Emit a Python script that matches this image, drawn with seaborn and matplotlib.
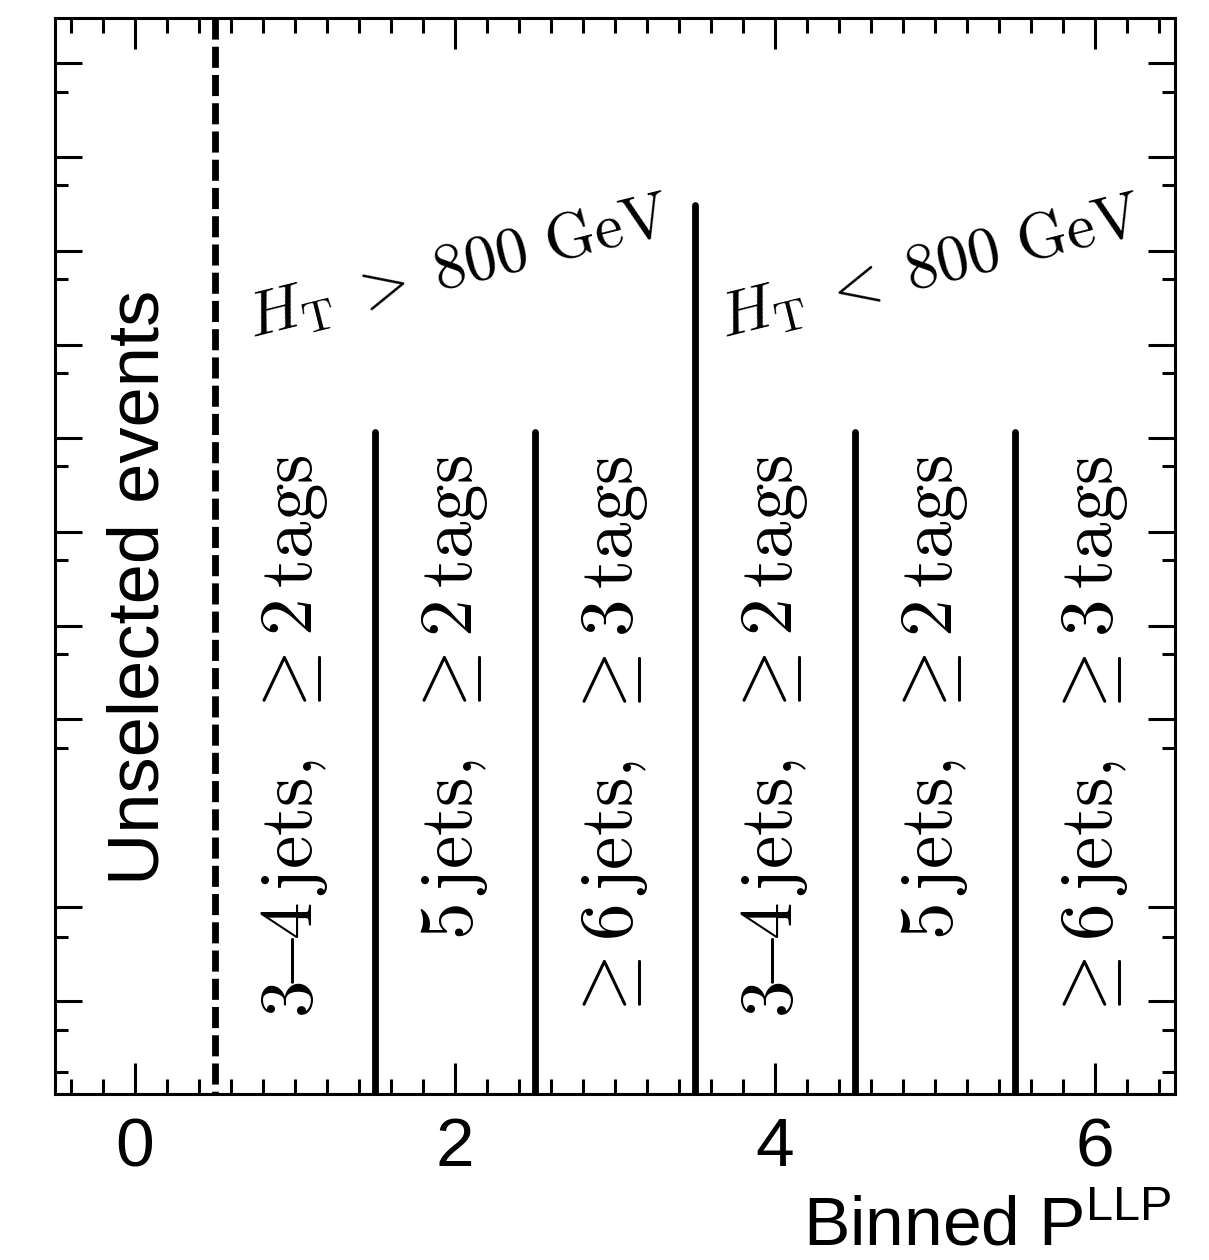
import numpy as np
import pandas as pd
import matplotlib
matplotlib.use("Agg")
import matplotlib.pyplot as plt
import seaborn as sns

# Signal-region bins along the binned P^LLP axis
bin_centers = [1, 2, 3, 4, 5, 6]
bin_labels = [
    r"$3\!\!-\!\!4\,\mathrm{jets},\ \geq 2\,\mathrm{tags}$",
    r"$5\,\mathrm{jets},\ \geq 2\,\mathrm{tags}$",
    r"$\geq 6\,\mathrm{jets},\ \geq 3\,\mathrm{tags}$",
    r"$3\!\!-\!\!4\,\mathrm{jets},\ \geq 2\,\mathrm{tags}$",
    r"$5\,\mathrm{jets},\ \geq 2\,\mathrm{tags}$",
    r"$\geq 6\,\mathrm{jets},\ \geq 3\,\mathrm{tags}$",
]

# Bin boundaries: position, height of the separator line, and its role
boundaries = [0.5, 1.5, 2.5, 3.5, 4.5, 5.5]
boundary_tops = [1.0, 0.615, 0.615, 0.826, 0.615, 0.615]
boundary_kinds = ["unselected", "jets", "jets", "ht", "jets", "jets"]

# H_T category headers
ht_labels = [r"$H_{\mathrm{T}}\;>\;800\ \mathrm{GeV}$",
             r"$H_{\mathrm{T}}\;<\;800\ \mathrm{GeV}$"]
ht_centers = [2.02, 4.97]

# Axis tick layout
x_major = [0, 2, 4, 6]
x_minor = [round(v, 1) for v in np.arange(-0.4, 6.5, 0.2)]
y_major = [0.958, 0.871, 0.7835, 0.696, 0.6097, 0.5223, 0.4349, 0.3485, 0.1738, 0.0864]
y_minor = [0.9312, 0.8448, 0.7574, 0.6701, 0.5836, 0.4963, 0.4089, 0.3216,
           0.1459, 0.0595, 0.0204]

sns.set_theme(style="ticks")
plt.rcParams["font.family"] = ["Liberation Sans", "DejaVu Sans"]
plt.rcParams["mathtext.fontset"] = "custom"
plt.rcParams["mathtext.rm"] = "Liberation Sans"
plt.rcParams["mathtext.it"] = "Liberation Sans:italic"
plt.rcParams["mathtext.bf"] = "Liberation Sans:bold"
for key in ["text.color", "axes.labelcolor", "xtick.color", "ytick.color",
            "axes.edgecolor"]:
    plt.rcParams[key] = "black"

fig = plt.figure(figsize=(12.09, 12.6), dpi=100)
ax = fig.add_axes([55 / 1209, 1 - 1094 / 1260, 1120 / 1209, 1076 / 1260])

# Separator lines drawn top-down so the dash pattern starts at the top
seg = pd.DataFrame({
    "x": np.repeat(boundaries, 2),
    "y": np.ravel([[top, 0.0] for top in boundary_tops]),
    "boundary": np.repeat(np.arange(len(boundaries)), 2),
    "kind": np.repeat(boundary_kinds, 2),
})
sns.lineplot(
    data=seg, x="x", y="y", units="boundary", estimator=None, sort=False,
    style="kind", dashes={"unselected": (3.1, 1.05), "jets": "", "ht": ""},
    color="black", lw=4.9, legend=False, ax=ax,
)

ax.set_xlim(-0.5, 6.5)
ax.set_ylim(0, 1)

# Bin descriptions
for xc, lab in zip(bin_centers, bin_labels):
    ax.text(xc, 0.594, lab, rotation=90, ha="center", va="top",
            fontsize=54, math_fontfamily="cm", color="black")

for xc, lab in zip(ht_centers, ht_labels):
    ax.text(xc, 0.768, lab, rotation=14, ha="center", va="center",
            fontsize=46, math_fontfamily="cm", color="black")

ax.text(0.03, 0.471, "Unselected events", rotation=90, ha="center", va="center",
        fontsize=52, color="black")

# Axes frame and ticks
for sp in ax.spines.values():
    sp.set_visible(True)
    sp.set_linewidth(2.2)
    sp.set_color("black")

ax.set_xticks(x_major)
ax.set_xticks(x_minor, minor=True)
ax.set_xticklabels([str(v) for v in x_major])
ax.set_yticks(y_major)
ax.set_yticks(y_minor, minor=True)

ax.tick_params(axis="both", which="both", direction="in", top=True, right=True,
               width=2.2, color="black", labelcolor="black")
ax.tick_params(axis="x", which="major", length=22, pad=16, labelsize=50)
ax.tick_params(axis="x", which="minor", length=11)
ax.tick_params(axis="y", which="major", length=19.5, labelleft=False)
ax.tick_params(axis="y", which="minor", length=9.5)
ax.set_ylabel("")

ax.set_xlabel(r"Binned P$^{\mathrm{LLP}}$", fontsize=50, loc="right",
              color="black")
ax.xaxis.set_label_coords(0.997, -0.141)
ax.xaxis.label.set_va("baseline")

fig.savefig("out.png", dpi=100, facecolor="white")
